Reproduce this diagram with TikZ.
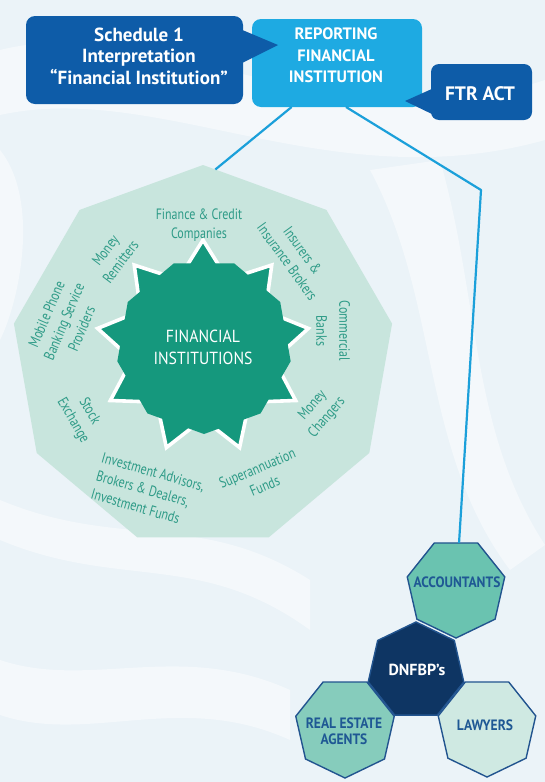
\documentclass[tikz,border=0pt]{standalone}
\usepackage{fontspec}
\setmainfont{PT Sans}
\newfontfamily\narrowfont{PT Sans}[FakeStretch=0.8]
\newfontfamily\semifont{PT Sans}[FakeStretch=0.9]
\usetikzlibrary{shapes.geometric,calc}

\definecolor{bgblue}{HTML}{EBF3F8}
\definecolor{darkblue}{HTML}{0E5CA8}
\definecolor{skyblue}{HTML}{1EAAE2}
\definecolor{wire}{HTML}{1BA0DA}
\definecolor{mint}{HTML}{C8E5DD}
\definecolor{startea}{HTML}{15987D}
\definecolor{tealtext}{HTML}{2E9B87}
\definecolor{navy}{HTML}{0E3563}
\definecolor{hexline}{HTML}{22548F}
\definecolor{hexA}{HTML}{6AC3B0}
\definecolor{hexR}{HTML}{86CCBC}
\definecolor{hexL}{HTML}{CFE9E2}
\definecolor{hextext}{HTML}{1F5894}

\tikzset{
  callout/.style={fill=#1, rounded corners=9pt, inner sep=0pt, outer sep=0pt},
  boxtext/.style={text=white, align=center, inner sep=0pt,
    font=\bfseries\fontsize{16.5}{21.5}\selectfont},
  connector/.style={draw=wire, line width=2.2pt},
  ringlabel/.style={text=tealtext, align=center, inner sep=0pt,
    font=\narrowfont\fontsize{15}{19}\selectfont},
  hept/.style={regular polygon, regular polygon sides=7, minimum size=#1,
    inner sep=0pt, outer sep=0pt, draw=hexline, line width=1.4pt},
  hepttext/.style={text=hextext, align=center, inner sep=0pt,
    font=\semifont\bfseries\fontsize{15}{16.5}\selectfont},
}

\begin{document}
\begin{tikzpicture}[x=1pt,y=1pt]
% page and soft background streaks
\fill[bgblue] (0,0) rectangle (545,-782);
\useasboundingbox (0,0) rectangle (545,-782);
\begin{scope}[white,opacity=0.45]
  \fill (0,-50) .. controls (160,-10) and (330,-150) .. (545,-80) -- (545,-140)
        .. controls (330,-200) and (160,-80) .. (0,-115) -- cycle;
  \fill (370,-170) .. controls (440,-300) and (420,-450) .. (510,-570) -- (545,-545)
        .. controls (470,-430) and (480,-300) .. (440,-160) -- cycle;
  \fill (0,-540) .. controls (120,-590) and (200,-550) .. (310,-630) -- (310,-580)
        .. controls (200,-510) and (120,-550) .. (0,-500) -- cycle;
  \fill (0,-660) .. controls (90,-690) and (180,-640) .. (290,-690) -- (290,-740)
        .. controls (180,-690) and (90,-745) .. (0,-715) -- cycle;
  \fill (0,-150) .. controls (40,-200) and (20,-300) .. (0,-340) -- cycle;
\end{scope}

% reporting institution and the two callouts pointing at it
\node[callout=skyblue, minimum width=170, minimum height=88] (rep) at (337,-63) {};
\node[boxtext] (reptext) at (336,-55.6) {REPORTING\\FINANCIAL\\INSTITUTION};

\node[callout=darkblue, minimum width=217, minimum height=88] (sched) at (134.5,-60) {};
\fill[darkblue] ([xshift=-3,yshift=-13]sched.north east) -- ++(38,-16)
      -- ([xshift=-3,yshift=-48]sched.north east) -- cycle;
\node[boxtext, font=\bfseries\fontsize{19}{21.5}\selectfont] (schedtext) at (139,-56)
      {Schedule 1\\Interpretation\\“Financial Institution”};

\node[callout=darkblue, rounded corners=8pt, minimum width=101, minimum height=56] (ftr) at (481.5,-92) {};
\fill[darkblue] ([xshift=3,yshift=-24]ftr.north west) -- ++(-29,-13)
      -- ([xshift=3,yshift=-51]ftr.north west) -- cycle;
\node[boxtext, font=\bfseries\fontsize{19.5}{22}\selectfont] (ftrtext) at (480,-94) {FTR ACT};

% financial institutions ring
\node[regular polygon, regular polygon sides=9, minimum size=384,
      inner sep=0pt, outer sep=0pt, fill=mint] (ring) at (203,-357) {};
\coordinate (sc) at (203,-347);
\coordinate (cc) at (204,-346);
\foreach \k in {0,...,8} {
  \pgfmathsetmacro{\at}{90+40*\k}
  \pgfmathsetmacro{\ai}{110+40*\k}
  \coordinate (tip\k) at ([shift={(sc)}] \at:107);
  \coordinate (notch\k) at ([shift={(sc)}] \ai:72);
  \coordinate (core\k) at ([shift={(cc)}] \ai:88);
}
\filldraw[startea, draw=white, line width=3.6pt, line join=miter]
  (tip0) -- (notch0) -- (tip1) -- (notch1) -- (tip2) -- (notch2)
  -- (tip3) -- (notch3) -- (tip4) -- (notch4) -- (tip5) -- (notch5)
  -- (tip6) -- (notch6) -- (tip7) -- (notch7) -- (tip8) -- (notch8) -- cycle;
\fill[startea] (core0) -- (core1) -- (core2) -- (core3) -- (core4)
  -- (core5) -- (core6) -- (core7) -- (core8) -- cycle;
\node[text=white, align=center, inner sep=0pt,
      font=\semifont\fontsize{17.5}{21.5}\selectfont] (fitext) at (203,-347.5)
      {FINANCIAL\\INSTITUTIONS};

\node[ringlabel] (finance) at (199,-225) {Finance \& Credit\\Companies};
\node[ringlabel, rotate=-54] (insurers) at (295,-256) {Insurers \&\\Insurance Brokers};
\node[ringlabel, rotate=-90, font=\narrowfont\fontsize{15}{23}\selectfont] (banks) at (333,-331) {Commercial\\Banks};
\node[ringlabel, rotate=49] (changers) at (320,-411.5) {Money\\Changers};
\node[ringlabel, rotate=23] (super) at (261,-477) {Superannuation\\Funds};
\node[ringlabel, rotate=-16, align=left] (invest) at (148,-490) {Investment Advisors,\\Brokers \& Dealers,\\Investment Funds};
\node[ringlabel, rotate=-60] (stock) at (81,-416) {Stock\\Exchange};
\node[ringlabel, rotate=67] (mobile) at (64,-321.5) {Mobile Phone\\Banking Service\\Providers};
\node[ringlabel, rotate=53] (remit) at (113,-256) {Money\\Remitters};

% DNFBP cluster
\node[hept=98, fill=navy] (dnfbp) at (416,-671) {};
\node[hept=100, fill=hexA, shape border rotate=180] (acc) at (456,-588) {};
\node[hept=101, fill=hexR, shape border rotate=180] (real) at (345,-727.5) {};
\node[hept=100, fill=hexL, shape border rotate=180] (law) at (487,-727) {};
\node[hepttext, text=white, font=\bfseries\fontsize{16}{20}\selectfont] (dnfbptext) at (417,-670) {DNFBP’s};
\node[hepttext] (acctext) at (457,-582) {ACCOUNTANTS};
\node[hepttext] (realtext) at (344,-731) {REAL ESTATE\\AGENTS};
\node[hepttext] (lawtext) at (485,-725) {LAWYERS};

% connectors
\coordinate (repL) at ($(rep.south west)!0.233!(rep.south east)$);
\coordinate (repR) at ($(rep.south west)!0.553!(rep.south east)$);
\coordinate (ringtop) at ($(ring.corner 1)!0.1!(ring.corner 9)$);
\coordinate (bend) at (481,-190);
\coordinate (acctop) at ($(acc.corner 5)!0.57!(acc.corner 4)$);
\draw[connector] (repL) -- (ringtop);
\draw[connector, line join=round] (repR) -- (bend) -- (acctop);
\end{tikzpicture}
\end{document}
